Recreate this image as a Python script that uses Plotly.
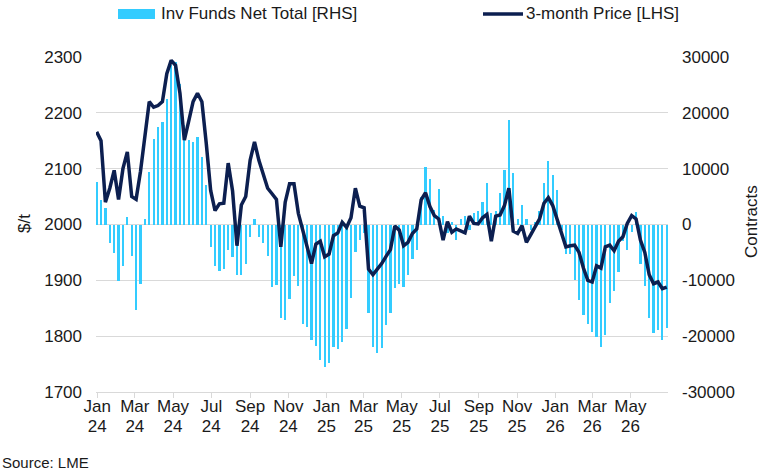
import pandas as pd
import plotly.graph_objects as go

# ---- data (weekly) ----
start_date = "2023-12-31"
n_weeks = 131
dates = pd.date_range(start_date, periods=n_weeks, freq="7D")

inv_funds_net = [
    7600, 4350, 2900, -3400, -5080, -10150, -7460, 1360, -5670, -15340,
    -10570, 900, 9400, 15400, 17500, 18400, 22400, 28500, 29100, 25200,
    17800, 15100, 14800, 15700, 12100, 7000, -4000, -7460, -8300, -7900,
    -4600, -5900, -9070, -9070, -7000, -2200, 900, -2200, -3300, -5670,
    -11280, -10870, -16830, -17130, -13370, -9250, -11050, -17850, -18330, -20710,
    -21730, -24290, -25490, -24880, -21910, -22380, -21010, -18800, -13250, -4900,
    -2690, -1610, -15930, -21910, -23100, -22200, -18030, -15930, -11460, -10570,
    -11280, -9070, -6090, -4600, 5000, 10300, 8230, 2560, 6440, 1500,
    -1500, 500, -2800, 1000, 1500, -1000, 2000, 2500, 4050, 7450,
    2000, 2430, 5660, 9850, 18670, 9300, 1070, 3450, 1000, -1000,
    500, 2500, 7450, 11390, 8830, 6140, -1000, -5200, -5320, -9970,
    -13550, -16240, -17850, -19220, -20120, -22020, -19820, -14140, -11880, -8480,
    -3000, -4600, -1300, 2260, -7000, -11000, -16830, -19500, -18920, -20710,
    -18620,
]

price_3m = [
    2166, 2150, 2040, 2065, 2097, 2045, 2100, 2130, 2050, 2045,
    2095, 2157, 2220, 2210, 2213, 2220, 2270, 2294, 2285, 2235,
    2151, 2185, 2220, 2235, 2220, 2145, 2061, 2025, 2037, 2038,
    2110, 2060, 1962, 2035, 2050, 2115, 2148, 2115, 2088, 2065,
    2055, 2045, 1960, 2040, 2073, 2073, 2020, 1990, 1960, 1930,
    1965, 1970, 1942, 1947, 1980, 1985, 2004, 1995, 2012, 2065,
    2033, 2030, 1920, 1910, 1920, 1930, 1943, 1955, 1997, 1990,
    1962, 1968, 1984, 1992, 2044, 2057, 2032, 2016, 2010, 1972,
    2005, 1986, 1992, 1988, 1985, 2015, 2002, 2001, 2012, 2018,
    1970, 2015, 2017, 2034, 2065, 1988, 1984, 1998, 1968, 1982,
    1996, 2010, 2038, 2048, 2034, 2010, 1985, 1960, 1962, 1963,
    1950, 1922, 1900, 1897, 1926, 1922, 1960, 1963, 1953, 1970,
    1978, 2002, 2016, 2010, 1972, 1950, 1910, 1894, 1897, 1885,
    1888,
]

left_ticks = [1700, 1800, 1900, 2000, 2100, 2200, 2300]
right_ticks = [-30000, -20000, -10000, 0, 10000, 20000, 30000]
right_tick_text = ["-30000", "-20000", "-10000", "0", "10000", "20000", "30000"]

bar_name = "Inv Funds Net Total [RHS]"
line_name = "3-month Price [LHS]"
left_title = "$/t"
right_title = "Contracts"
source_text = "Source: LME"

# ---- styling / layout ----
W, H = 770, 473
L, R, T, B = 96, 102, 57, 81
PW, PH = W - L - R, H - T - B
FONT = "Liberation Sans, Arial, sans-serif"
BAR_COLOR = "#33CCFF"
LINE_COLOR = "#0C1F50"
GRID = "#D9D9D9"
TXT = "#1a1a1a"
X_RANGE = ["2023-12-30", "2026-06-30"]


def px_x(px):
    return (px - L) / PW


def px_y(py):
    return (H - B - py) / PH


fig = go.Figure()
fig.add_trace(go.Bar(
    x=dates, y=inv_funds_net, name=bar_name, marker_color=BAR_COLOR,
    marker_line_width=0, width=3.6 * 86400000,
    xaxis="x", yaxis="y", showlegend=False,
))
fig.add_trace(go.Scatter(
    x=dates, y=price_3m, name=line_name, mode="lines",
    line=dict(color=LINE_COLOR, width=3.5),
    xaxis="x2", yaxis="y2", showlegend=False,
))

fig.update_layout(
    width=W, height=H,
    margin=dict(l=L, r=R, t=T, b=B, pad=0),
    paper_bgcolor="white", plot_bgcolor="white",
    font=dict(family=FONT, size=17, color=TXT),
    bargap=0,
    xaxis=dict(
        type="date", range=X_RANGE,
        tick0="2024-01-01", dtick="M2", tickformat="%b",
        ticks="outside", ticklen=5, tickcolor=GRID, tickwidth=1,
        showline=True, linecolor=GRID, linewidth=1,
        showgrid=False, zeroline=False,
        tickfont=dict(size=17), ticklabelstandoff=-6,
    ),
    xaxis2=dict(
        type="date", range=X_RANGE, overlaying="x", anchor="y", side="bottom",
        tick0="2024-01-01", dtick="M2", tickformat="%y",
        ticks="", showline=False, showgrid=False, zeroline=False,
        tickfont=dict(size=17), ticklabelstandoff=22,
    ),
    yaxis=dict(
        side="right", range=[-30000, 30000],
        tickvals=right_ticks, ticktext=right_tick_text,
        showgrid=True, gridcolor=GRID, gridwidth=1,
        zeroline=False, showline=False, ticks="",
        ticklabelstandoff=13,
    ),
    yaxis2=dict(
        overlaying="y", side="left", range=[1700, 2300], anchor="x2",
        tickvals=left_ticks, showgrid=False, zeroline=False,
        showline=False, ticks="", ticklabelstandoff=13,
    ),
)

# manual legend
shapes = [
    dict(type="rect", xref="paper", yref="paper",
         x0=px_x(118), x1=px_x(155), y0=px_y(19), y1=px_y(9),
         fillcolor=BAR_COLOR, line=dict(width=0)),
    dict(type="line", xref="paper", yref="paper",
         x0=px_x(483), x1=px_x(523), y0=px_y(14), y1=px_y(14),
         line=dict(color=LINE_COLOR, width=3.5)),
]
annotations = [
    dict(text=bar_name, xref="paper", yref="paper", x=px_x(159), y=px_y(14),
         xanchor="left", yanchor="middle", showarrow=False, font=dict(size=17)),
    dict(text=line_name, xref="paper", yref="paper", x=px_x(524), y=px_y(14),
         xanchor="left", yanchor="middle", showarrow=False, font=dict(size=17)),
    dict(text=left_title, xref="paper", yref="paper", x=px_x(24), y=px_y(224),
         xanchor="center", yanchor="middle", textangle=-90, showarrow=False,
         font=dict(size=17)),
    dict(text=right_title, xref="paper", yref="paper", x=px_x(751), y=px_y(222),
         xanchor="center", yanchor="middle", textangle=-90, showarrow=False,
         font=dict(size=17)),
    dict(text=source_text, xref="paper", yref="paper", x=px_x(0), y=px_y(462),
         xanchor="left", yanchor="middle", showarrow=False, font=dict(size=15)),
]
fig.update_layout(shapes=shapes, annotations=annotations)

fig.write_html("out.html")
